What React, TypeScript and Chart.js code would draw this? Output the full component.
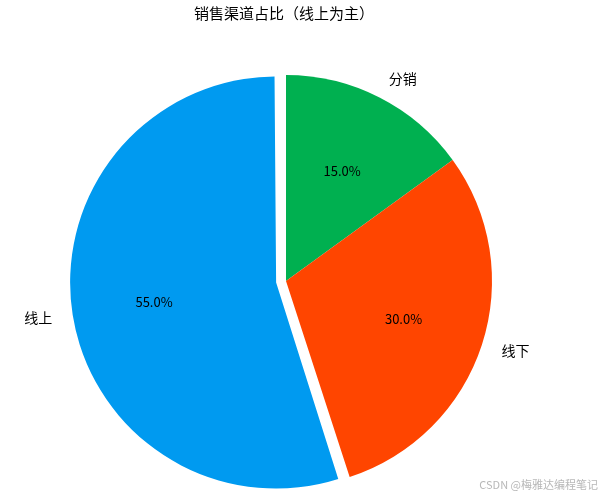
import React, { useEffect, useRef } from "react";
import { Chart, registerables } from "chart.js";

Chart.register(...registerables);

const categories = ["分销", "线下", "线上"];
const shares = [15, 30, 55];
const colors = ["#00B050", "#FF4500", "#009AF0"];
const explodeOffsets = [0, 0, 10];
const titleText = "销售渠道占比（线上为主）";
const watermark = "CSDN @梅雅达编程笔记";

const FONT = '"Noto Sans CJK SC", "Noto Sans", sans-serif';
const RADIUS = 206;

// Chart.js translates an arc by offset/4 and also enlarges its radius by that much;
// compensate so the exploded wedge keeps the same radius as the others.
const explodeFixPlugin = {
  id: "explodeFix",
  beforeDatasetsDraw(chart: any) {
    const meta = chart.getDatasetMeta(0);
    const R = meta.controller.outerRadius;
    meta.data.forEach((arc: any, i: number) => {
      arc.outerRadius = R - explodeOffsets[i];
    });
  },
};

const labelPlugin = {
  id: "pieLabels",
  afterDatasetsDraw(chart: any) {
    const ctx = chart.ctx;
    const meta = chart.getDatasetMeta(0);
    const R = meta.controller.outerRadius;
    const total = shares.reduce((a, b) => a + b, 0);
    ctx.save();
    ctx.fillStyle = "#000";
    ctx.textBaseline = "middle";
    meta.data.forEach((arc: any, i: number) => {
      const mid = (arc.startAngle + arc.endAngle) / 2;
      const off = explodeOffsets[i];
      const cx = arc.x + Math.cos(mid) * off;
      const cy = arc.y + Math.sin(mid) * off;
      const lx = cx + Math.cos(mid) * R * 1.1;
      const ly = cy + Math.sin(mid) * R * 1.1;
      ctx.font = `14px ${FONT}`;
      ctx.textAlign = Math.cos(mid) >= 0 ? "left" : "right";
      ctx.fillText(categories[i], lx, ly);
      const px = cx + Math.cos(mid) * R * 0.6;
      const py = cy + Math.sin(mid) * R * 0.6;
      ctx.font = `13px ${FONT}`;
      ctx.textAlign = "center";
      ctx.fillText(((shares[i] / total) * 100).toFixed(1) + "%", px, py);
    });
    ctx.font = `15px ${FONT}`;
    ctx.textAlign = "center";
    ctx.fillStyle = "#000";
    ctx.fillText(titleText, 284, 13);
    ctx.font = `11px ${FONT}`;
    ctx.textAlign = "right";
    ctx.fillStyle = "#b8b8b8";
    ctx.fillText(watermark, 598, 485);
    ctx.restore();
  },
};

export default function App() {
  const ref = useRef<HTMLCanvasElement | null>(null);
  useEffect(() => {
    document.body.style.margin = "0";
    const chart = new Chart(ref.current as HTMLCanvasElement, {
      type: "pie",
      data: {
        labels: categories,
        datasets: [
          {
            data: shares,
            backgroundColor: colors,
            borderWidth: 0,
            offset: explodeOffsets.map((o) => o * 4),
          },
        ],
      },
      options: {
        animation: false,
        responsive: false,
        radius: RADIUS,
        layout: { padding: { left: 0, right: 33, top: 66, bottom: 0 } },
        plugins: {
          legend: { display: false },
          title: { display: false },
          tooltip: { enabled: false },
        },
      } as any,
      plugins: [explodeFixPlugin, labelPlugin],
    });
    return () => chart.destroy();
  }, []);
  return (
    <div style={{ position: "absolute", left: 0, top: 0, width: 605, height: 496, background: "#fff" }}>
      <canvas ref={ref} width={605} height={496} style={{ width: 605, height: 496 }} />
    </div>
  );
}
